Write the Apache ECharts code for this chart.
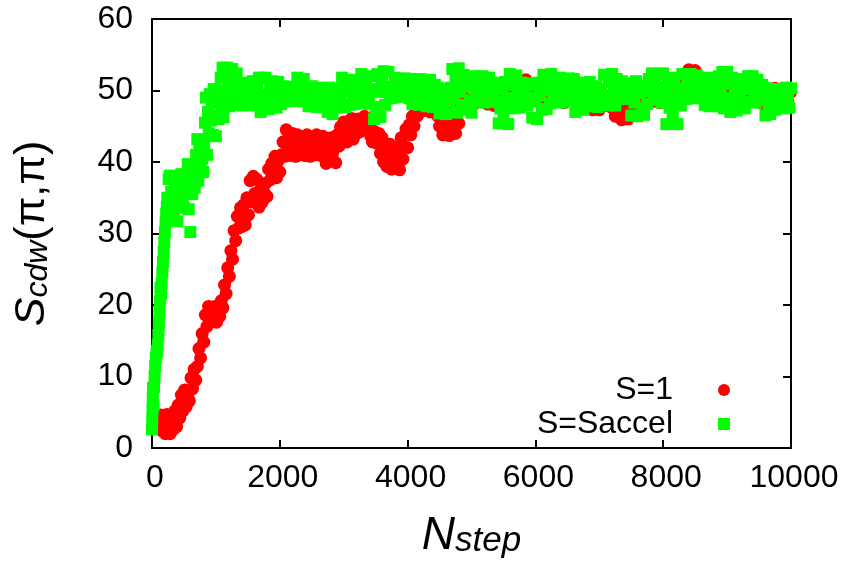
<!DOCTYPE html>
<html>
<head>
<meta charset="utf-8">
<script src="https://cdn.jsdelivr.net/npm/echarts@6/dist/echarts.min.js"></script>
<style>
html,body{margin:0;padding:0;background:#fff;}
#chart{width:847px;height:567px;}
</style>
</head>
<body>
<div id="chart"></div>
<script>
// ---- data ----
const xTicks = [0, 2000, 4000, 6000, 8000, 10000];
const yTicks = [0, 10, 20, 30, 40, 50, 60];
const seriesNames = ['S=1', 'S=Saccel'];

// S=1 : rise, [step, value]
const s1Early = [
  [110,3.2],[135,4.6],[160,2.4],[185,4.2],[210,2.0],[235,4.7],[260,3.0],[285,2.0],[310,4.0],[335,2.6],
  [360,5.2],[385,3.0],[410,6.0],[435,4.2],[460,7.4],[485,5.2],[510,8.1],[535,5.8],[560,7.6],[585,6.6],
  [610,9.8],[635,8.3],[660,11.0],[685,9.5],[710,11.4],[735,13.9],[760,12.6],[785,16.0],[810,14.8],[835,18.6],
  [860,17.0],[885,19.8],[910,17.6],[935,19.6],[960,18.0],[985,19.8],[1010,17.6],[1035,19.6],[1060,18.4],[1085,20.6],
  [1110,19.6],[1135,22.8],[1160,21.6],[1185,25.2],[1210,24.0],[1235,27.6],[1260,26.4],[1285,30.4],[1310,29.0],[1335,32.4],
  [1360,30.8],[1385,33.6],[1410,31.0],[1435,34.0],[1460,31.2],[1485,35.0],[1510,32.6],[1535,37.4],[1560,34.4],[1585,38.0],
  [1610,35.6],[1635,37.6]
];
// S=1 : every 25 steps from 1650 to 5000
const s1MidStart = 1650, s1MidStep = 25;
const s1Mid = [
  35.0,33.7,36.2,34.4,35.8,37.0,35.2,39.0,
  37.5,39.8,38.2,40.8,37.8,40.2,38.6,41.0,
  42.8,40.8,44.5,41.6,43.6,40.9,44.0,42.2,
  40.8,43.8,42.0,41.0,43.4,42.5,40.9,43.8,
  41.8,40.8,43.2,42.4,41.0,43.8,41.6,42.9,
  40.9,43.6,41.8,39.8,42.6,40.6,43.4,41.2,
  42.6,39.9,43.8,42.2,44.9,43.0,45.6,43.4,
  42.8,45.2,43.9,46.1,43.2,45.0,44.0,46.0,
  44.2,45.8,44.5,46.4,45.2,44.6,46.0,43.6,
  42.8,44.3,43.0,42.6,44.0,41.2,43.4,40.0,
  42.2,39.4,41.0,42.5,39.0,40.8,42.0,39.6,
  41.6,38.9,43.4,40.4,42.2,44.6,42.0,45.2,
  43.8,46.4,45.0,47.6,46.4,48.6,47.0,49.5,
  47.8,49.2,48.0,50.0,47.0,49.4,48.2,49.8,
  47.6,46.4,45.0,47.0,43.8,46.0,44.6,47.0,
  43.7,45.6,44.4,46.6,44.0,47.0,45.4,48.0,
  47.8,50.0,48.6,50.5,48.2,49.6,50.4
];
// S=1 : every 50 steps from 5050 to 10000
const s1LateStart = 5050, s1LateStep = 50;
const s1Late = [
  48.2,49.4,50.6,49.3,48.1,49.5,47.9,49.2,50.4,49.0,
  48.4,49.8,50.8,49.6,48.4,50.0,51.5,50.2,48.9,50.1,
  48.6,49.8,50.8,49.5,48.4,49.7,50.8,49.4,48.3,49.6,
  50.6,51.0,49.6,51.0,49.2,47.8,49.0,47.3,48.6,47.3,
  48.8,47.9,49.2,47.6,46.4,48.0,45.9,47.4,46.0,47.6,
  49.0,50.2,48.8,50.0,48.6,49.8,48.5,49.7,48.3,49.6,
  50.6,49.4,50.8,49.8,51.2,50.2,52.0,52.9,51.4,52.8,
  50.8,49.6,50.6,49.4,48.6,49.8,48.8,48.0,49.2,50.2,
  49.0,48.4,49.6,50.4,49.2,48.6,49.8,50.6,49.4,48.6,
  48.2,49.4,50.2,49.2,50.3,49.0,50.2,49.2,48.6,49.8
];

// S=Saccel : rise, [step, value]
const saccelEarly = [
  [0,2.6],[4,4.0],[8,5.5],[12,7.0],[16,8.4],[24,6.0],[32,8.5],[40,10.0],[50,11.5],[60,12.6],
  [70,13.2],[80,13.6],[90,14.4],[100,15.8],[108,17.4],[116,19.0],[124,20.6],[132,22.4],[142,21.5],[152,23.0],
  [162,24.6],[172,26.0],[182,27.4],[192,28.8],[202,30.2],[212,31.5],[222,32.8],[232,33.8],
  [240,35.0],[250,32.5],[260,37.6],[270,34.0],[280,38.1],[290,32.2],[300,35.8],[320,37.9],[340,33.0],[360,36.2],
  [380,38.0],[400,31.7],[420,34.5],[440,37.0],[460,38.3],[480,35.2],[500,33.6],[520,38.0],[540,36.0],[560,39.7],
  [575,33.4],[590,37.1],[600,30.2],[610,39.6],[630,35.5],[650,38.3],[670,36.4],[690,41.0],[700,39.0],[710,43.2],
  [725,37.4],[740,41.8],[755,39.6],[770,43.0],[785,40.5],[800,38.6],[815,42.5],[830,45.5],[845,49.0],[860,41.0],
  [875,47.0],[890,44.0],[905,49.5],[920,45.8],[935,48.3],[950,43.8],[965,50.2],[980,46.5],[1000,43.6],[1015,48.8],
  [1030,50.0],[1045,46.0],[1060,49.0],[1075,51.8],[1090,47.5],[1105,53.2],[1120,46.3],[1135,50.0],[1150,52.5],[1165,48.4],
  [1180,53.2],[1195,50.6],[1210,47.8],[1225,51.8],[1240,49.5],[1255,53.0],[1270,48.0],[1285,51.2],[1300,49.4],[1325,52.4]
];
// S=Saccel : every 25 steps from 1350 to 10000
const saccelStart = 1350, saccelStep = 25;
const saccelValues = [
  48.2,50.9,49.5,47.9,50.3,51.1,48.9,49.8,
  48.0,51.3,49.6,47.9,50.6,51.8,47.0,49.4,
  48.3,51.8,49.2,47.4,50.5,51.3,48.6,49.9,
  47.6,51.2,49.4,48.1,50.6,49.0,48.5,50.2,
  48.6,50.5,49.5,48.5,50.1,51.8,48.7,50.9,
  49.6,51.6,48.5,50.4,47.8,49.2,50.6,48.3,
  49.5,47.7,50.4,48.8,47.9,50.2,49.1,48.0,
  47.0,50.4,48.6,46.7,49.7,50.2,47.6,49.0,
  48.3,51.8,49.9,47.7,51.0,50.3,48.0,51.5,
  49.4,48.1,50.9,49.7,48.4,52.3,50.6,48.2,
  51.4,49.3,48.1,52.0,50.2,46.0,47.7,52.3,
  49.8,46.3,51.2,52.7,48.0,50.5,52.6,48.9,
  50.4,49.0,51.8,50.1,49.3,51.4,50.8,49.1,
  51.7,49.6,50.6,48.9,51.6,48.1,50.0,51.3,
  49.2,48.0,51.6,50.3,48.6,51.2,47.8,49.7,
  51.5,49.0,47.7,50.8,48.4,50.4,46.8,49.1,
  47.9,50.2,46.7,49.3,48.5,50.4,53.0,48.9,
  51.5,46.9,53.1,49.8,48.0,52.2,47.3,50.6,
  51.8,48.6,46.9,50.3,52.0,49.0,48.4,51.6,
  50.0,52.0,48.3,50.9,49.4,51.8,48.6,51.1,
  49.8,48.4,51.0,45.4,47.5,50.2,46.8,51.2,
  49.0,45.3,52.3,47.5,50.8,48.6,52.1,49.6,
  47.6,51.1,49.5,48.2,50.7,47.9,51.0,49.0,
  46.2,50.8,48.5,46.0,51.1,49.3,47.3,52.2,
  50.1,47.4,51.5,48.2,52.3,49.8,48.4,51.0,
  49.5,51.8,48.3,50.6,51.3,48.8,50.0,51.7,
  48.5,50.4,51.6,47.0,49.6,51.1,48.1,50.5,
  47.3,51.0,49.2,48.3,51.2,47.8,50.1,49.0,
  50.6,47.7,49.4,50.2,48.0,52.2,49.1,47.9,
  51.2,48.6,52.3,49.7,47.9,51.6,48.8,50.5,
  51.3,49.1,50.2,48.8,51.0,49.6,46.5,50.8,
  48.3,51.3,46.4,49.7,50.6,47.5,46.6,49.9,
  48.1,51.6,50.0,52.4,48.7,51.0,49.3,52.3,
  50.2,48.3,52.4,49.5,45.3,50.8,47.6,49.1,
  46.4,51.8,48.6,45.3,50.3,47.9,52.3,49.2,
  48.8,51.4,50.0,52.3,49.2,51.0,48.9,52.1,
  50.4,49.0,51.8,49.7,48.0,51.5,50.2,47.8,
  49.6,51.8,48.3,50.7,47.8,52.0,49.3,52.6,
  47.5,50.9,52.6,49.0,47.0,51.8,48.6,50.4,
  47.2,51.6,49.4,48.0,51.0,47.5,50.2,52.0,
  48.4,50.9,52.0,49.3,48.3,51.5,50.0,48.7,
  50.8,49.0,46.5,50.3,48.2,46.7,49.6,50.2,
  47.3,50.0,48.6,47.9,50.2,48.9,47.5,50.4,
  49.0,47.6,50.3
];

// ---- build series data ----
const s1Data = s1Early
  .concat(s1Mid.map((v, i) => [s1MidStart + i * s1MidStep, v]))
  .concat(s1Late.map((v, i) => [s1LateStart + i * s1LateStep, v]));
const saccelData = saccelEarly
  .concat(saccelValues.map((v, i) => [saccelStart + i * saccelStep, v]));

const FONT = 'Liberation Sans';
const black = '#000000';

function axisBase(extra) {
  return Object.assign({
    type: 'value',
    axisLine: { show: true, onZero: false, lineStyle: { color: black, width: 2 } },
    axisTick: { show: true, inside: true, length: 8, lineStyle: { color: black, width: 2 } },
    splitLine: { show: false },
    axisLabel: { show: false }
  }, extra);
}
const plain = v => String(v);

const chart = echarts.init(document.getElementById('chart'), null, { renderer: 'canvas' });

const option = {
  animation: false,
  backgroundColor: '#ffffff',
  grid: { left: 152, right: 56, top: 19, bottom: 119, containLabel: false, outerBoundsMode: 'none' },
  xAxis: [
    axisBase({
      position: 'bottom',
      min: xTicks[0], max: xTicks[xTicks.length - 1], interval: xTicks[1] - xTicks[0],
      axisLabel: { show: true, color: black, fontFamily: FONT, fontSize: 32, margin: 14, formatter: plain, padding: [0, 0, 0, 6] },
      name: '{m|N}{sub|step}',
      nameLocation: 'middle',
      nameGap: 62,
      nameTextStyle: {
        color: black, fontFamily: FONT,
        rich: {
          m: { fontSize: 46, fontStyle: 'italic', fontFamily: FONT, color: black, verticalAlign: 'top', lineHeight: 46 },
          sub: { fontSize: 35, fontStyle: 'italic', fontFamily: FONT, color: black, verticalAlign: 'bottom', lineHeight: 35, padding: [25, 0, 0, 0] }
        }
      }
    }),
    axisBase({
      position: 'top',
      min: xTicks[0], max: xTicks[xTicks.length - 1], interval: xTicks[1] - xTicks[0]
    })
  ],
  yAxis: [
    axisBase({
      position: 'left',
      min: yTicks[0], max: yTicks[yTicks.length - 1], interval: yTicks[1] - yTicks[0],
      axisLabel: { show: true, color: black, fontFamily: FONT, fontSize: 32, margin: 19, formatter: plain },
      name: '{m|S}{sub|cdw}{p|(π,π)}',
      nameLocation: 'middle',
      nameGap: 98,
      nameTextStyle: {
        color: black, fontFamily: FONT,
        rich: {
          m: { fontSize: 43, fontStyle: 'italic', fontFamily: FONT, color: black, verticalAlign: 'top', lineHeight: 43 },
          sub: { fontSize: 32, fontStyle: 'italic', fontFamily: FONT, color: black, verticalAlign: 'bottom', lineHeight: 32, padding: [23, 0, 0, 0] },
          p: { fontSize: 43, fontFamily: FONT, color: black, verticalAlign: 'top', lineHeight: 43 }
        }
      }
    }),
    axisBase({
      position: 'right',
      min: yTicks[0], max: yTicks[yTicks.length - 1], interval: yTicks[1] - yTicks[0]
    })
  ],
  legend: [
    {
      data: [seriesNames[0]],
      align: 'right', orient: 'vertical', right: 117, top: 374, padding: 0,
      itemWidth: 12, itemHeight: 12, icon: 'circle',
      textStyle: { color: black, fontFamily: FONT, fontSize: 32, padding: [0, 40, 0, 0] }
    },
    {
      data: [seriesNames[1]],
      align: 'right', orient: 'vertical', right: 117, top: 408, padding: 0,
      itemWidth: 12, itemHeight: 12, icon: 'rect',
      textStyle: { color: black, fontFamily: FONT, fontSize: 32, padding: [0, 40, 0, 0] }
    }
  ],
  series: [
    {
      name: seriesNames[0], type: 'scatter', xAxisIndex: 0, yAxisIndex: 0,
      symbol: 'circle', symbolSize: 13, data: s1Data,
      itemStyle: { color: '#ff0000', opacity: 1, borderWidth: 0 }, clip: false, large: false,
      emphasis: { disabled: true }
    },
    {
      name: seriesNames[1], type: 'scatter', xAxisIndex: 0, yAxisIndex: 0,
      symbol: 'rect', symbolSize: 12, data: saccelData,
      itemStyle: { color: '#00ff00', opacity: 1, borderWidth: 0 }, clip: false, large: false,
      emphasis: { disabled: true }
    }
  ]
};
chart.setOption(option);
</script>
</body>
</html>
